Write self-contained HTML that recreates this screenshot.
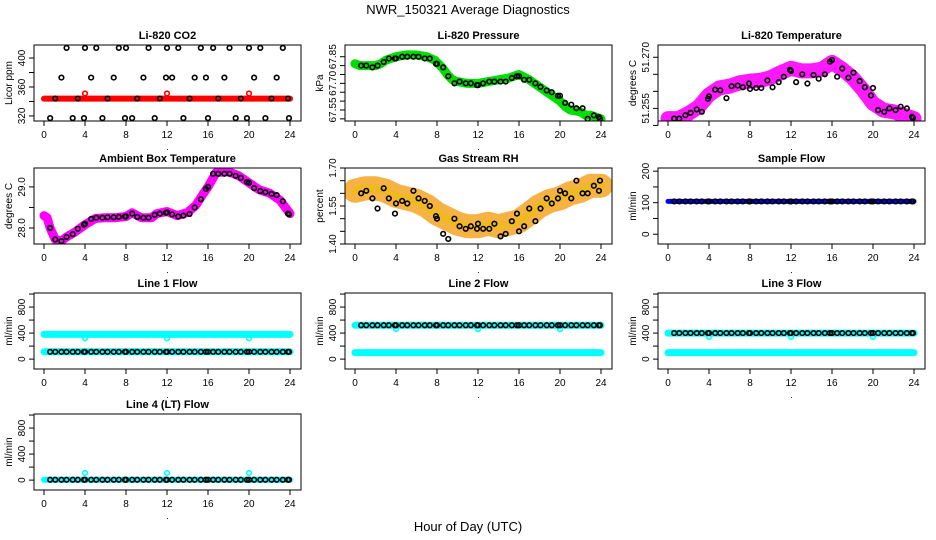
<!DOCTYPE html>
<html><head><meta charset="utf-8">
<style>
html,body{margin:0;padding:0;background:#fff;}
svg{display:block;font-family:"Liberation Sans",sans-serif;}
</style></head>
<body>
<svg id="chart" width="936" height="540" viewBox="0 0 936 540">
<text x="468" y="14" text-anchor="middle" font-size="13">NWR_150321  Average Diagnostics</text>
<text x="468" y="531" text-anchor="middle" font-size="13">Hour of Day (UTC)</text>
</svg>
<script>
// ---- data ----
const xTicks = [0,4,8,12,16,20,24];
const blackHours = [0.6,1.1,1.7,2.2,2.8,3.3,3.9,4.0,4.6,5.1,5.7,6.2,6.8,7.3,7.9,8.0,8.6,9.1,9.7,10.2,10.8,11.3,11.9,12.0,12.5,13.1,13.6,14.2,14.7,15.3,15.8,16.0,16.5,17.0,17.6,18.1,18.7,19.2,19.8,20.0,20.5,21.1,21.6,22.2,22.7,23.3,23.8,23.9];

const co2Black = [317,344,373,414,317,344,317,414,373,414,317,344,373,414,317,414,317,344,373,414,317,344,373,414,373,414,317,344,373,414,373,317,414,344,373,414,317,344,317,414,373,414,317,344,373,414,344,317];
const co2RedHours = [0,24];
const co2RedValues = [344,344];
const co2RedOutHours = [4,12,20];
const co2RedOutValues = [351,351,351];

const presHours = [0,0.5,1,1.5,2,2.5,3,3.5,4,5,6,7,7.8,8.5,9,9.5,10,11,12,13,14,15,16,17,18,19,20,20.5,21,22,22.5,23,23.5,24];
const presValues = [67.81,67.80,67.80,67.80,67.80,67.81,67.83,67.84,67.85,67.86,67.86,67.85,67.83,67.79,67.75,67.72,67.71,67.70,67.70,67.71,67.72,67.73,67.75,67.72,67.68,67.64,67.60,67.57,67.55,67.54,67.52,67.52,67.51,67.50];
const presBlack = [67.80,67.80,67.79,67.80,67.82,67.84,67.84,67.84,67.85,67.85,67.85,67.85,67.84,67.84,67.81,67.81,67.79,67.74,67.70,67.71,67.70,67.70,67.69,67.69,67.70,67.71,67.71,67.71,67.71,67.73,67.74,67.74,67.72,67.72,67.70,67.68,67.66,67.65,67.63,67.63,67.59,67.58,67.56,67.56,67.50,67.52,67.51,67.50];

const tempHours = [0,1,2,3,4,5,6,7,8,9,10,11,12,13,14,15,16,17,18,19,20,21,22,23,24];
const tempValues = [51.2520,51.2520,51.2535,51.2555,51.2590,51.2610,51.2615,51.2625,51.2630,51.2632,51.2640,51.2655,51.2668,51.2660,51.2660,51.2665,51.2685,51.2665,51.2640,51.2605,51.2565,51.2545,51.2540,51.2530,51.2520];
const tempBlack = [51.2520,51.2520,51.2530,51.2537,51.2547,51.2540,51.2578,51.2585,51.2605,51.2603,51.2580,51.2615,51.2617,51.2612,51.2623,51.2607,51.2610,51.2610,51.2632,51.2612,51.2627,51.2643,51.2663,51.2660,51.2627,51.2650,51.2623,51.2648,51.2637,51.2650,51.2687,51.2692,51.2643,51.2667,51.2640,51.2655,51.2630,51.2612,51.2588,51.2610,51.2545,51.2540,51.2550,51.2545,51.2555,51.2550,51.2525,51.2522];

const ambHours = [0,0.3,0.6,1.1,1.7,2.2,3,4,5,6,7,8,8.6,9.5,10.5,11,12,13,14,14.8,15.5,16,16.8,18,19,20,21,22,23,24];
const ambValues = [28.30,28.25,28.00,27.72,27.68,27.78,27.90,28.08,28.23,28.25,28.25,28.28,28.37,28.25,28.25,28.35,28.40,28.30,28.38,28.55,28.82,29.00,29.35,29.37,29.27,29.10,28.93,28.85,28.68,28.35];
const ambBlack = [28.00,27.72,27.68,27.78,27.85,27.98,28.08,28.10,28.22,28.25,28.25,28.26,28.26,28.27,28.28,28.28,28.35,28.27,28.25,28.25,28.32,28.35,28.37,28.38,28.33,28.28,28.30,28.34,28.50,28.70,28.95,29.00,29.32,29.32,29.32,29.32,29.27,29.22,29.12,29.10,28.97,28.90,28.87,28.83,28.80,28.65,28.35,28.33];

const rhHours = [0,1,2,3,4,5,6,7,8,9,10,11,12,13,14,15,16,17,18,19,20,21,22,23,24];
const rhValues = [1.61,1.62,1.62,1.61,1.59,1.58,1.57,1.55,1.52,1.50,1.48,1.47,1.47,1.48,1.47,1.48,1.49,1.52,1.55,1.57,1.58,1.60,1.61,1.63,1.63];
const rhBlack = [1.60,1.61,1.58,1.54,1.62,1.58,1.52,1.56,1.57,1.56,1.61,1.58,1.57,1.55,1.51,1.50,1.44,1.42,1.50,1.47,1.46,1.47,1.46,1.48,1.46,1.46,1.48,1.43,1.44,1.49,1.52,1.45,1.47,1.54,1.49,1.54,1.58,1.56,1.58,1.61,1.60,1.58,1.65,1.60,1.60,1.63,1.61,1.65];

const flowHours = [0,24];
const sampleBlue = [104,104];
const line1Cyan = [[380,380],[112,112]];
const line2Cyan = [[520,520],[100,100]];
const line3Cyan = [[400,400],[100,100]];
const line4Cyan = [[5,5]];
const dipHours = [4,12,20];
const line1Dip = [320,320,320];
const line2Dip = [460,460,460];
const line3Dip = [340,340,340];
const line4Dip = [110,110,110];
const sampleBlack = 104, line1Black = 112, line2Black = 520, line3Black = 400, line4Black = 5;

// ---- drawing ----
const NS = "http://www.w3.org/2000/svg";
const svg = document.getElementById('chart');
function mk(tag, attrs, parent){const e=document.createElementNS(NS,tag);for(const k in attrs)e.setAttribute(k,attrs[k]);(parent||svg).appendChild(e);return e;}
const colLeft=[34,345,658], rowTop=[45,168,293,414], W=267, H=76;

function panel(col,row,title,ylabel,yMin,yMax,ticks,labels,name){
  const g=mk('g',{});
  
  
  const L=colLeft[col], T=rowTop[row];
  const xs=h=>L+10+h*(246/24);
  const ys=v=>T+H-(v-yMin)/(yMax-yMin)*H;
  const t=mk('text',{x:L+W/2,y:T-6,'text-anchor':'middle','font-size':'11','font-weight':'bold'},g);
  t.textContent=title;
  
  
  const xa=mk('g',{},g);
  
  
  mk('line',{x1:xs(0),x2:xs(24),y1:T+H,y2:T+H,stroke:'#000'},xa);
  xTicks.forEach(v=>{
    mk('line',{x1:xs(v),x2:xs(v),y1:T+H,y2:T+H+5,stroke:'#000'},xa);
    const tx=mk('text',{x:xs(v),y:T+H+17,'text-anchor':'middle','font-size':'10'},xa);tx.textContent=v;
  });
  const dot=mk('text',{x:L+W/2,y:T+H+29,'text-anchor':'middle','font-size':'9'},xa);dot.textContent='.';
  const ya=mk('g',{},g);
  
  
  mk('line',{x1:L,x2:L,y1:ys(ticks[0]),y2:ys(ticks[ticks.length-1]),stroke:'#000'},ya);
  ticks.forEach((v,i)=>{
    mk('line',{x1:L-5,x2:L,y1:ys(v),y2:ys(v),stroke:'#000'},ya);
    if(labels[i]!==''){const tx=mk('text',{x:L-9,y:ys(v),'text-anchor':'middle','font-size':'10',transform:`rotate(-90 ${L-9} ${ys(v)})`},ya);tx.textContent=labels[i];}
  });
  const yl=mk('text',{x:L-22,y:T+H/2,'text-anchor':'middle','font-size':'10',transform:`rotate(-90 ${L-22} ${T+H/2})`},g);
  yl.textContent=ylabel;
  
  
  const cid='clip'+col+row;
  const cp=mk('clipPath',{id:cid},g);mk('rect',{x:L,y:T,width:W,height:H},cp);
  const plot=mk('g',{'clip-path':`url(#${cid})`},g);
  mk('rect',{x:L,y:T,width:W,height:H,fill:'none',stroke:'#000'},g);
  return {g:plot,xs,ys};
}
function band(p,hours,vals,color,width,name,op){
  const d=hours.map((h,i)=>(i?'L':'M')+p.xs(h).toFixed(1)+' '+p.ys(vals[i]).toFixed(1)).join(' ');
  const e=mk('path',{d,fill:'none',stroke:color,'stroke-width':width,'stroke-linejoin':'round','stroke-linecap':'round',opacity:op||1},p.g);
  
  
}
function pts(p,hours,vals,color,name,r){
  hours.forEach((h,i)=>{
    const c=mk('circle',{cx:p.xs(h),cy:p.ys(vals[i]),r:r||2.3,fill:'none',stroke:color,'stroke-width':1.6},p.g);
    
    
  });
}
const constArr=v=>blackHours.map(()=>v);

let p=panel(0,0,'Li-820 CO2','Licor ppm',313,418,[320,340,360,380,400],['320','','360','','400'],'co2');
band(p,co2RedHours,co2RedValues,'#f00',6,'co2-red-band');
pts(p,co2RedOutHours,co2RedOutValues,'#f00','co2-red-point');
pts(p,blackHours,co2Black,'#000','co2-black-point');

p=panel(1,0,'Li-820 Pressure','kPa',67.488,67.916,[67.5,67.55,67.6,67.65,67.7,67.75,67.8,67.85],['','67.55','','','67.70','','','67.85'],'pressure');
band(p,presHours,presValues,'#00dd00',9,'pressure-green-band');
pts(p,blackHours,presBlack,'#000','pressure-black-point');

p=panel(2,0,'Li-820 Temperature','degrees C',51.2513,51.2736,[51.250,51.255,51.260,51.265,51.270],['','51.255','','','51.270'],'licor-temp');
band(p,tempHours,tempValues,'#ff00ff',15,'licor-temp-magenta-band',0.9);
pts(p,blackHours,tempBlack,'#000','licor-temp-black-point');

p=panel(0,1,'Ambient Box Temperature','degrees C',27.61,29.46,[28.0,28.5,29.0],['28.0','','29.0'],'ambient-temp');
band(p,ambHours,ambValues,'#ff00ff',9,'ambient-magenta-band');
pts(p,blackHours,ambBlack,'#000','ambient-black-point');

p=panel(1,1,'Gas Stream RH','percent',1.40,1.70,[1.40,1.45,1.50,1.55,1.60,1.65,1.70],['1.40','','','1.55','','','1.70'],'rh');
band(p,rhHours,rhValues,'#f5a623',24,'rh-orange-band',0.85);
band(p,rhHours,rhValues,'#e8c000',8,'rh-yellow-core',0.5);
pts(p,blackHours,rhBlack,'#000','rh-black-point');

p=panel(2,1,'Sample Flow','ml/min',-31,210,[0,50,100,150,200],['0','','100','','200'],'sample-flow');
band(p,flowHours,sampleBlue,'#0000ff',5,'sample-blue-band');
pts(p,blackHours,constArr(sampleBlack),'#000','sample-black-point');

const fT=[0,200,400,600,800,1000], fL=['0','','400','','800',''];
p=panel(0,2,'Line 1 Flow','ml/min',-152,1016,fT,fL,'line1-flow');
line1Cyan.forEach(v=>band(p,flowHours,v,'#00ffff',7,'line1-cyan-band'));
pts(p,dipHours,line1Dip,'#00ffff','line1-cyan-dip');
pts(p,blackHours,constArr(line1Black),'#000','line1-black-point');
p=panel(1,2,'Line 2 Flow','ml/min',-152,1016,fT,fL,'line2-flow');
line2Cyan.forEach(v=>band(p,flowHours,v,'#00ffff',7,'line2-cyan-band'));
pts(p,dipHours,line2Dip,'#00ffff','line2-cyan-dip');
pts(p,blackHours,constArr(line2Black),'#000','line2-black-point');
p=panel(2,2,'Line 3 Flow','ml/min',-152,1016,fT,fL,'line3-flow');
line3Cyan.forEach(v=>band(p,flowHours,v,'#00ffff',7,'line3-cyan-band'));
pts(p,dipHours,line3Dip,'#00ffff','line3-cyan-dip');
pts(p,blackHours,constArr(line3Black),'#000','line3-black-point');
p=panel(0,3,'Line 4 (LT) Flow','ml/min',-152,1016,fT,fL,'line4-flow');
line4Cyan.forEach(v=>band(p,flowHours,v,'#00ffff',6,'line4-cyan-band'));
pts(p,dipHours,line4Dip,'#00ffff','line4-cyan-dip');
pts(p,blackHours,constArr(line4Black),'#000','line4-black-point');
</script>
</body></html>
